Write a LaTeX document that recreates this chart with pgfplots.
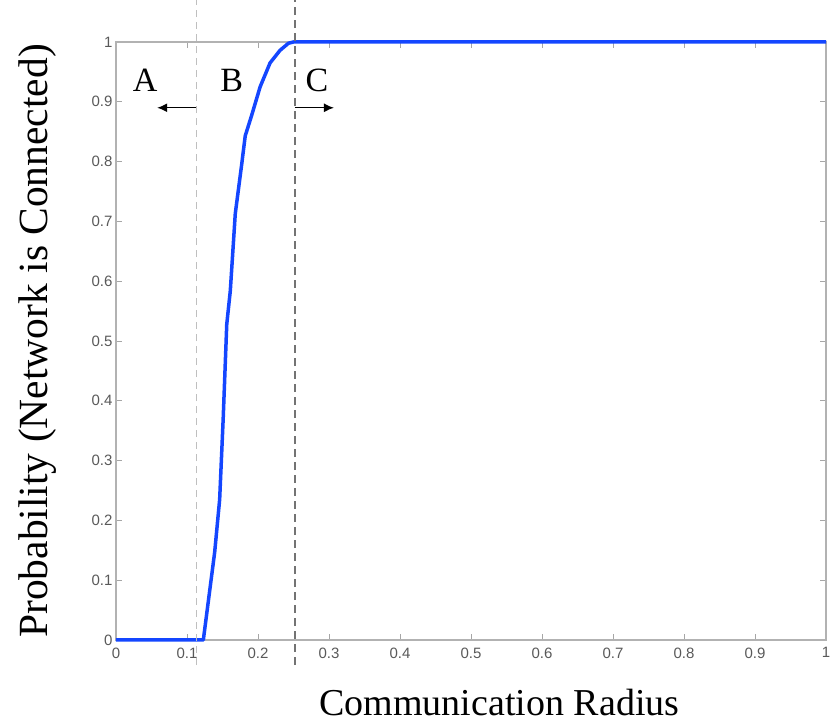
\documentclass[border=0pt]{standalone}
\usepackage{fontspec}
\setmainfont{Liberation Serif}
\newfontfamily\tickfont{Liberation Sans}
\usepackage{pgfplots}
\pgfplotsset{compat=1.18}
\usetikzlibrary{arrows.meta}
\definecolor{curveblue}{RGB}{20,70,255}
\begin{document}
\begin{tikzpicture}
\path[use as bounding box] (-116pt,-82pt) rectangle (715pt,640pt);
\begin{axis}[
  at={(0pt,0pt)}, anchor=south west,
  scale only axis, width=710pt, height=598pt,
  xmin=0, xmax=1, ymin=0, ymax=1,
  xtick={0,0.1,...,1}, ytick={0,0.1,...,1},
  xticklabels={0,0.1,0.2,0.3,0.4,0.5,0.6,0.7,0.8,0.9,1},
  yticklabels={0,0.1,0.2,0.3,0.4,0.5,0.6,0.7,0.8,0.9,1},
  tick align=inside,
  major tick length=6pt,
  axis line style={gray!60, line width=1.2pt},
  tick style={gray!70, line width=0.8pt},
  ticklabel style={font=\tickfont\fontsize{15}{15}\selectfont, text=black!65},
  xticklabel style={yshift=-4pt},
  /pgf/number format/assume math mode=true,
  clip=false,
  xlabel={Communication Radius},
  ylabel={Probability (Network is Connected)},
  x label style={font=\fontsize{38}{40}\selectfont, at={(axis description cs:0.54,-0.104)}, anchor=center},
  y label style={font=\fontsize{41.5}{44}\selectfont, at={(axis description cs:-0.111,0.5)}, anchor=center},
]
\addplot[curveblue, line width=3.5pt, line join=round] coordinates {
(0,0) (0.123,0) (0.139,0.147) (0.146,0.235) (0.151,0.371) (0.156,0.528)
(0.161,0.584) (0.168,0.713) (0.177,0.795) (0.182,0.843) (0.191,0.877)
(0.203,0.925) (0.217,0.965) (0.231,0.986) (0.243,0.998) (0.25,1) (1,1)
};
\draw[gray!50, dash pattern=on 7pt off 5pt, line width=1pt] (axis cs:0.113,-0.042) -- (axis cs:0.113,1.07);
\draw[gray!90!black, dash pattern=on 8pt off 5pt, line width=1.3pt] (axis cs:0.252,-0.042) -- (axis cs:0.252,1.07);
\draw[-{Latex[length=10pt,width=9pt]}, line width=1.4pt] (axis cs:0.113,0.89) -- (axis cs:0.058,0.89);
\draw[-{Latex[length=10pt,width=9pt]}, line width=1.4pt] (axis cs:0.252,0.89) -- (axis cs:0.307,0.89);
\node[font=\fontsize{34}{36}\selectfont] at (axis cs:0.041,0.936) {A};
\node[font=\fontsize{34}{36}\selectfont] at (axis cs:0.163,0.936) {B};
\node[font=\fontsize{34}{36}\selectfont] at (axis cs:0.283,0.936) {C};
\end{axis}
\end{tikzpicture}
\end{document}
